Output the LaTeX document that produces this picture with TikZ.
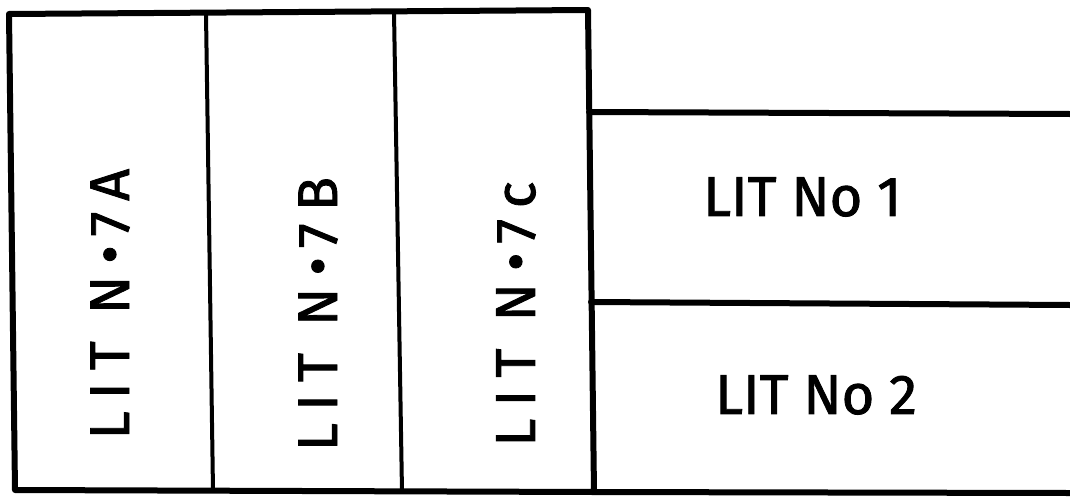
\documentclass[tikz,border=0pt]{standalone}
\usepackage{fontspec}
\usepackage{tikz}
\usetikzlibrary{positioning}
\newfontfamily\lotfont[FakeBold=1.5]{Fira Sans}
\newfontfamily\lotwide[LetterSpace=22,FakeBold=1.5]{Fira Sans}

\begin{document}
\begin{tikzpicture}[
  x=1pt, y=-1pt,
  wall/.style={line width=6pt, line cap=round, line join=round},
  split/.style={line width=4pt},
  lotv/.style={rotate=90, inner sep=0pt,
               font=\lotwide\fontsize{56}{60}\selectfont},
  loth/.style={anchor=west, inner sep=0pt,
               font=\lotfont\fontsize{56}{60}\selectfont},
]
\useasboundingbox (0,0) rectangle (1070,498);

% Lots 7A to 7c
\coordinate (nw) at (9,14);
\coordinate (ne) at (588,10);
\coordinate (sw) at (15,490);
\coordinate (se) at (594,492);
\draw[wall] (1070,493) -- (se) -- (sw) -- (nw) -- (ne) -- (se);
\coordinate (s1top) at (206,14);
\coordinate (s1bot) at (213,491);
\coordinate (s2top) at (394,12);
\coordinate (s2bot) at (402,492);
\draw[split] (s1top) -- (s1bot);
\draw[split] (s2top) -- (s2bot);

% Lots 1 and 2
\coordinate (r1) at (589,112);
\coordinate (r2) at (591,302);
\draw[wall] (r1) -- (1070,114);
\draw[wall] (r2) -- (1070,305);

% Labels
\node[lotv] (lot7a) at (110,304) {LIT N\textbullet 7A};
\node[lotv] (lot7b) at (318,314) {LIT N\textbullet 7B};
\node[lotv] (lot7c) at (516,314) {LIT N\textbullet 7c};
\node[loth] (lot1) at (703,197) {LIT No 1};
\node[loth] (lot2) at (715,395) {LIT No 2};
\end{tikzpicture}
\end{document}
